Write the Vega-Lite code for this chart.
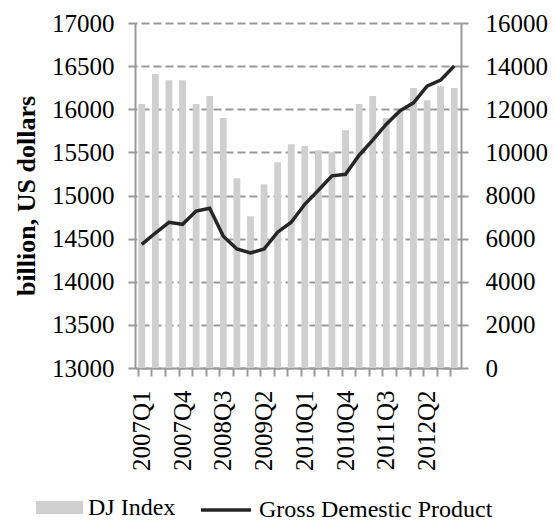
{
  "$schema": "https://vega.github.io/schema/vega-lite/v6.json",
  "width": 326,
  "height": 345,
  "autosize": {"type": "none"},
  "padding": {"left": 135, "top": 23, "right": 94, "bottom": 153},
  "background": "white",
  "config": {
    "font": "Liberation Serif",
    "view": {"stroke": null},
    "axis": {
      "labelFont": "Liberation Serif",
      "labelFontSize": 25,
      "labelColor": "black",
      "titleFont": "Liberation Serif",
      "titleColor": "black",
      "domainColor": "#999999",
      "domainWidth": 2,
      "tickColor": "#999999",
      "tickWidth": 2,
      "tickSize": 7
    },
    "legend": {
      "labelFont": "Liberation Serif",
      "labelFontSize": 24,
      "labelColor": "black",
      "labelLimit": 400,
      "padding": 0
    }
  },
  "data": {
    "values": [
      {"quarter": "2007Q1", "dj": 12240, "gdp": 14434},
      {"quarter": "2007Q2", "dj": 13630, "gdp": 14565},
      {"quarter": "2007Q3", "dj": 13350, "gdp": 14689},
      {"quarter": "2007Q4", "dj": 13350, "gdp": 14666},
      {"quarter": "2008Q1", "dj": 12240, "gdp": 14820},
      {"quarter": "2008Q2", "dj": 12610, "gdp": 14852},
      {"quarter": "2008Q3", "dj": 11590, "gdp": 14527},
      {"quarter": "2008Q4", "dj": 8800, "gdp": 14380},
      {"quarter": "2009Q1", "dj": 7040, "gdp": 14333},
      {"quarter": "2009Q2", "dj": 8520, "gdp": 14380},
      {"quarter": "2009Q3", "dj": 9540, "gdp": 14575},
      {"quarter": "2009Q4", "dj": 10380, "gdp": 14690},
      {"quarter": "2010Q1", "dj": 10290, "gdp": 14898},
      {"quarter": "2010Q2", "dj": 10100, "gdp": 15061},
      {"quarter": "2010Q3", "dj": 10010, "gdp": 15228},
      {"quarter": "2010Q4", "dj": 11030, "gdp": 15246},
      {"quarter": "2011Q1", "dj": 12240, "gdp": 15467},
      {"quarter": "2011Q2", "dj": 12610, "gdp": 15641},
      {"quarter": "2011Q3", "dj": 11590, "gdp": 15827},
      {"quarter": "2011Q4", "dj": 11870, "gdp": 15981},
      {"quarter": "2012Q1", "dj": 12980, "gdp": 16074},
      {"quarter": "2012Q2", "dj": 12420, "gdp": 16268},
      {"quarter": "2012Q3", "dj": 13070, "gdp": 16338},
      {"quarter": "2012Q4", "dj": 12980, "gdp": 16502}
    ]
  },
  "encoding": {
    "x": {
      "field": "quarter",
      "type": "ordinal",
      "sort": null,
      "scale": {"type": "band", "paddingInner": 0.5, "paddingOuter": 0.25},
      "axis": {
        "title": null,
        "labelAngle": -90,
        "labelPadding": 14,
        "tickSize": 8,
        "bandPosition": 0,
        "labelExpr": "indexof(['2007Q1','2007Q4','2008Q3','2009Q2','2010Q1','2010Q4','2011Q3','2012Q2'], datum.value) >= 0 ? datum.value : ''"
      }
    }
  },
  "layer": [
    {
      "mark": {"type": "bar"},
      "encoding": {
        "y": {
          "field": "dj",
          "type": "quantitative",
          "scale": {"domain": [0, 16000], "nice": false, "zero": true},
          "axis": {
            "orient": "right",
            "title": null,
            "format": "d",
            "values": [0, 2000, 4000, 6000, 8000, 10000, 12000, 14000, 16000],
            "labelPadding": 17,
            "grid": true,
            "gridColor": "#999999",
            "gridWidth": 2,
            "gridDash": [8, 4]
          }
        },
        "fill": {
          "datum": "DJ Index",
          "scale": {"range": ["#cfcfcf"]},
          "legend": {
            "title": null,
            "orient": "none",
            "legendX": -99,
            "legendY": 461,
            "symbolType": "M-1,-0.28L1,-0.28L1,0.28L-1,0.28Z",
            "symbolSize": 2209,
            "symbolStrokeWidth": 0,
            "labelOffset": 5
          }
        }
      }
    },
    {
      "mark": {"type": "line", "strokeWidth": 3.5},
      "encoding": {
        "y": {
          "field": "gdp",
          "type": "quantitative",
          "scale": {"domain": [13000, 17000], "nice": false, "zero": false},
          "axis": {
            "orient": "left",
            "title": "billion, US dollars",
            "titleFontSize": 26,
            "titleFontWeight": "bold",
            "titlePadding": 12,
            "format": "d",
            "values": [13000, 13500, 14000, 14500, 15000, 15500, 16000, 16500, 17000],
            "labelPadding": 14,
            "grid": false
          }
        },
        "stroke": {
          "datum": "Gross Demestic Product",
          "scale": {"range": ["#262626"]},
          "legend": {
            "title": null,
            "orient": "none",
            "legendX": 64,
            "legendY": 460,
            "symbolType": "stroke",
            "symbolSize": 2500,
            "symbolStrokeWidth": 3.5,
            "labelOffset": 6
          }
        }
      }
    }
  ],
  "resolve": {"scale": {"y": "independent"}}
}
